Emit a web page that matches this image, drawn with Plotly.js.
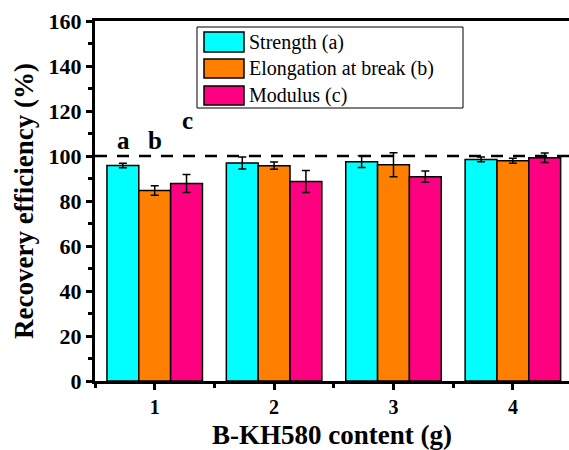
<!DOCTYPE html>
<html><head><meta charset="utf-8">
<script src="https://cdn.plot.ly/plotly-3.0.1.min.js"></script>
</head><body><div id="chart" style="position:absolute;left:0;top:0"></div>
<script>
const categories = [1, 2, 3, 4];
const tickLabels = ['1', '2', '3', '4'];
const seriesNames = ['Strength (a)', 'Elongation at break (b)', 'Modulus (c)'];
const strength = [95.8, 96.9, 97.5, 98.5];
const strengthErr = [1.0, 2.7, 2.6, 1.1];
const elongation = [84.7, 95.7, 96.1, 97.9];
const elongationErr = [2.1, 1.6, 5.3, 1.1];
const modulus = [87.8, 88.7, 90.8, 99.2];
const modulusErr = [4.0, 4.9, 2.5, 2.1];
const colors = ['#00FFFF', '#FF8000', '#FF0080'];
const refLevel = 100;
const groupLetters = ['a', 'b', 'c'];

const FAM = 'Times New Roman';
const vals = [strength, elongation, modulus];
const errs = [strengthErr, elongationErr, modulusErr];

const traces = vals.map((v, i) => ({
  type: 'bar', x: categories, y: v, name: seriesNames[i],
  marker: {color: colors[i], line: {color: '#000', width: 1.5}},
  error_y: {type: 'data', array: errs[i], visible: true, color: '#000', thickness: 1.5, width: 4},
  showlegend: false
}));

const shapes = [
  {type: 'line', xref: 'paper', yref: 'y', x0: 0, x1: 1, y0: refLevel, y1: refLevel,
   line: {color: '#000', width: 2.5, dash: '12px,10px'}},
  {type: 'rect', xref: 'paper', yref: 'paper', x0: (197-95)/474, x1: (463-95)/474,
   y0: (381-108)/360, y1: (381-27)/360, line: {color: '#000', width: 1}, fillcolor: '#fff'}
];
const annotations = [];
const swY = [[32,52],[59,78],[86,105]];
seriesNames.forEach((n, i) => {
  shapes.push({type: 'rect', xref: 'paper', yref: 'paper',
    x0: (204-95)/474, x1: (244-95)/474,
    y0: (381-swY[i][1])/360, y1: (381-swY[i][0])/360,
    fillcolor: colors[i], line: {color: '#000', width: 1.5}});
  annotations.push({xref: 'paper', yref: 'paper', x: (247-95)/474, y: (381-(swY[i][0]+swY[i][1])/2)/360,
    xanchor: 'left', yanchor: 'middle', text: n, showarrow: false,
    font: {family: FAM, size: 20, color: '#000'}});
});
const letterPos = [[123,140],[155,140],[187,120]];
groupLetters.forEach((t, i) => {
  annotations.push({xref: 'paper', yref: 'paper', x: (letterPos[i][0]-95)/474, y: (381-letterPos[i][1])/360,
    xanchor: 'center', yanchor: 'middle', text: '<b>' + t + '</b>', showarrow: false,
    font: {family: FAM, size: 25, color: '#000'}});
});

const layout = {
  width: 569, height: 450,
  margin: {l: 95, r: 0, t: 21, b: 69},
  paper_bgcolor: '#fff', plot_bgcolor: '#fff',
  barmode: 'group', bargap: 0.2, bargroupgap: 0,
  font: {family: FAM, color: '#000'},
  xaxis: {
    type: 'linear', range: [0.5, 4.47], tickvals: categories, ticktext: tickLabels,
    showgrid: false, zeroline: false, showline: true, linecolor: '#000', linewidth: 3,
    mirror: true, ticks: 'outside', ticklen: 6, tickwidth: 3, tickcolor: '#000',
    minor: {tick0: 0.5, dtick: 1, ticklen: 4, tickwidth: 3, tickcolor: '#000', showgrid: false},
    tickfont: {family: FAM, size: 20, color: '#000', weight: 'bold'},
    title: {text: '<b>B-KH580 content (g)</b>', font: {family: FAM, size: 27, color: '#000'}, standoff: 12}
  },
  yaxis: {
    range: [0, 160], tickvals: [0,20,40,60,80,100,120,140,160],
    showgrid: false, zeroline: false, showline: true, linecolor: '#000', linewidth: 3,
    ticks: 'outside', ticklen: 6, tickwidth: 3, tickcolor: '#000',
    minor: {dtick: 10, ticklen: 4, tickwidth: 3, tickcolor: '#000', showgrid: false},
    tickfont: {family: FAM, size: 22, color: '#000', weight: 'bold'},
    title: {text: '<b>Recovery efficiency (%)</b>', font: {family: FAM, size: 27, color: '#000'}, standoff: 8}
  },
  shapes: shapes, annotations: annotations
};
Plotly.newPlot('chart', traces, layout, {displayModeBar: false});
</script></body></html>
